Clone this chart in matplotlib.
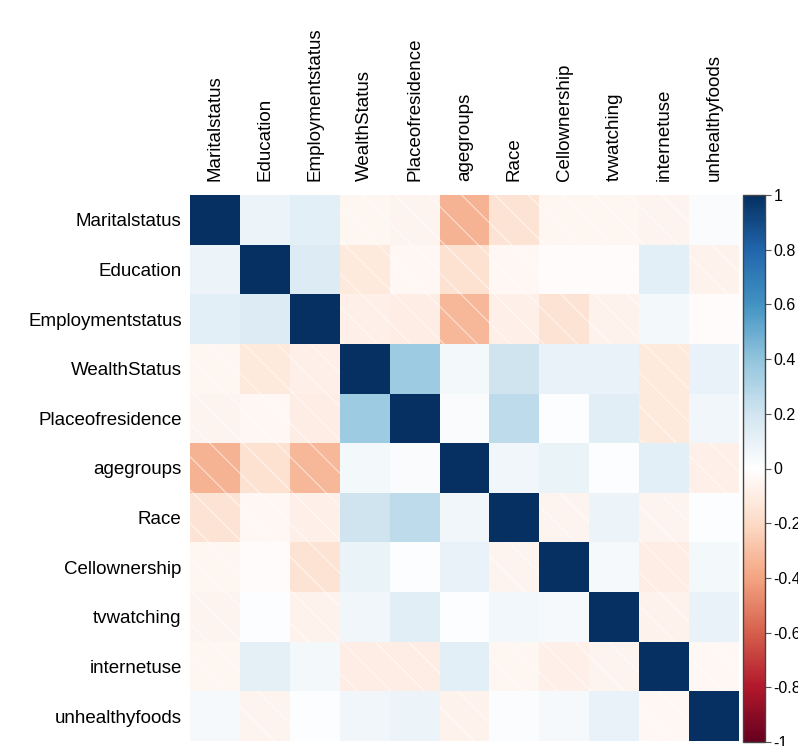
import numpy as np
import matplotlib
matplotlib.use("Agg")
import matplotlib.pyplot as plt
from matplotlib.colors import Normalize, LinearSegmentedColormap

plt.rcParams['font.family'] = ['Liberation Sans', 'DejaVu Sans']
plt.rcParams['hatch.linewidth'] = 0.8

labels = ["Maritalstatus", "Education", "Employmentstatus", "WealthStatus",
          "Placeofresidence", "agegroups", "Race", "Cellownership",
          "tvwatching", "internetuse", "unhealthyfoods"]

row_marital    = [1.00, 0.08, 0.12, -0.05, -0.06, -0.35, -0.15, -0.05, -0.05, -0.06, 0.03]
row_education  = [0.08, 1.00, 0.15, -0.12, -0.04, -0.16, -0.04, -0.02, -0.02, 0.12, -0.07]
row_employment = [0.12, 0.15, 1.00, -0.08, -0.10, -0.33, -0.08, -0.15, -0.07, 0.05, -0.02]
row_wealth     = [-0.05, -0.12, -0.08, 1.00, 0.36, 0.05, 0.21, 0.10, 0.10, -0.12, 0.10]
row_place      = [-0.06, -0.04, -0.10, 0.36, 1.00, 0.03, 0.26, 0.01, 0.13, -0.12, 0.07]
row_age        = [-0.35, -0.16, -0.33, 0.05, 0.03, 1.00, 0.07, 0.09, 0.01, 0.12, -0.08]
row_race       = [-0.15, -0.04, -0.08, 0.21, 0.26, 0.07, 1.00, -0.06, 0.08, -0.06, 0.01]
row_cell       = [-0.05, -0.02, -0.15, 0.09, 0.01, 0.10, -0.06, 1.00, 0.04, -0.10, 0.05]
row_tv         = [-0.06, 0.01, -0.07, 0.07, 0.13, 0.01, 0.06, 0.04, 1.00, -0.07, 0.10]
row_internet   = [-0.05, 0.11, 0.05, -0.10, -0.10, 0.12, -0.05, -0.08, -0.06, 1.00, -0.04]
row_unhealthy  = [0.04, -0.06, 0.01, 0.07, 0.08, -0.07, 0.02, 0.04, 0.10, -0.04, 1.00]

corr = np.array([row_marital, row_education, row_employment, row_wealth,
                 row_place, row_age, row_race, row_cell, row_tv,
                 row_internet, row_unhealthy])

cbar_ticks = [1, 0.8, 0.6, 0.4, 0.2, 0, -0.2, -0.4, -0.6, -0.8, -1]

# corrplot-style RdBu palette (pure white centre)
col2 = ["#67001F", "#B2182B", "#D6604D", "#F4A582", "#FDDBC7", "#FFFFFF",
        "#D1E5F0", "#92C5DE", "#4393C3", "#2166AC", "#053061"]
cmap = LinearSegmentedColormap.from_list("col2", col2, N=256)

n = len(labels)
fig = plt.figure(figsize=(7.98, 7.46), dpi=100)
ax = fig.add_axes([190/798, 1-741/746, 549/798, 546/746])

norm = Normalize(vmin=-1, vmax=1)
mesh = ax.pcolormesh(np.arange(n+1)-0.5, np.arange(n+1)-0.5, corr,
                     cmap=cmap, norm=norm, shading='flat')

# white diagonal hatching on negative cells
neg_r, neg_c = np.where(corr < 0)
ax.bar(neg_c, height=1.0, bottom=neg_r-0.5, width=1.0, fill=False,
       hatch='\\', edgecolor=(1, 1, 1, 0.6), linewidth=0)

ax.set_xlim(-0.5, n-0.5)
ax.set_ylim(n-0.5, -0.5)
ax.set_xticks(range(n))
ax.set_yticks(range(n))
ax.set_xticklabels(labels, rotation=90, fontsize=13.5)
ax.set_yticklabels(labels, fontsize=13.5)
ax.xaxis.tick_top()
ax.tick_params(axis='y', length=0, pad=6)
ax.tick_params(axis='x', length=0, pad=10)
for s in ax.spines.values():
    s.set_visible(False)

cax = fig.add_axes([743/798, 1-742/746, 22/798, 547/746])
cb = fig.colorbar(mesh, cax=cax, ticks=cbar_ticks)
cb.ax.set_yticklabels([f"{t:g}" for t in cbar_ticks])
cb.ax.tick_params(labelsize=11.5, length=4, color='#555555', pad=2)
cb.outline.set_edgecolor('#444444')
cb.outline.set_linewidth(1.0)

fig.savefig("out.png", dpi=100)
